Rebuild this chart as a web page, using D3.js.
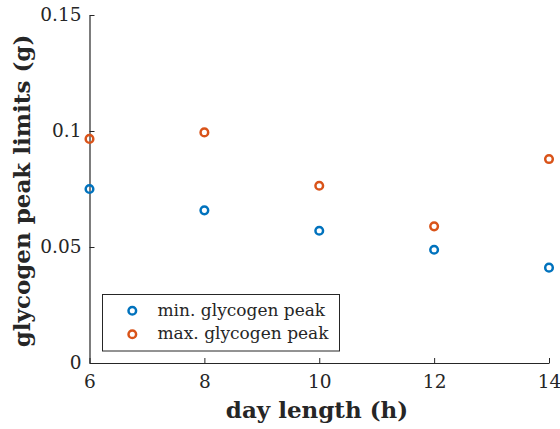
<!DOCTYPE html>
<html>
<head>
<meta charset="utf-8">
<script src="https://cdn.jsdelivr.net/npm/d3@7"></script>
<style>
  html, body { margin: 0; padding: 0; background: #fff; }
  svg { display: block; }
  text { font-family: "DejaVu Serif", serif; fill: #262626; }
</style>
</head>
<body>
<script>
const dayLength = [6, 8, 10, 12, 14];
const minPeak = [0.0750, 0.0658, 0.0570, 0.0488, 0.0411];
const maxPeak = [0.0966, 0.0994, 0.0764, 0.0589, 0.0879];
const xTicks = [6, 8, 10, 12, 14];
const yTicks = [0, 0.05, 0.1, 0.15];
const yTickLabels = ["0", "0.05", "0.1", "0.15"];
const seriesNames = ["min. glycogen peak", "max. glycogen peak"];
const seriesColors = ["#0072BD", "#D95319"];

const W = 560, H = 429;
const m = { left: 89.5, right: 11, top: 15, bottom: 66 };
const FONT = "DejaVu Serif";

const svg = d3.select("body").append("svg").attr("width", W).attr("height", H);

const x = d3.scaleLinear().domain([6, 14]).range([m.left, W - m.right]);
const y = d3.scaleLinear().domain([0, 0.15]).range([H - m.bottom, m.top]);

// X axis
const gx = svg.append("g").attr("transform", `translate(0,${H - m.bottom})`)
  .call(d3.axisBottom(x).tickValues(xTicks).tickSize(-5).tickSizeOuter(0).tickPadding(12).tickFormat(d3.format("d")));
gx.select(".domain").attr("stroke", "#262626").attr("stroke-width", 1.2);
gx.selectAll(".tick line").attr("stroke", "#262626");
gx.selectAll("text").attr("font-size", 18.5).attr("font-family", FONT).attr("fill", "#262626");

// Y axis
const gy = svg.append("g").attr("transform", `translate(${m.left},0)`)
  .call(d3.axisLeft(y).tickValues(yTicks).tickSize(-5).tickSizeOuter(0).tickPadding(8)
    .tickFormat((d, i) => yTickLabels[i]));
gy.select(".domain").attr("stroke", "#262626").attr("stroke-width", 1.2);
gy.selectAll(".tick line").attr("stroke", "#262626");
gy.selectAll("text").attr("font-size", 18.5).attr("font-family", FONT).attr("fill", "#262626");

// Axis labels
svg.append("text")
  .attr("x", 317).attr("y", 418)
  .attr("text-anchor", "middle").attr("font-size", 23).attr("font-weight", "bold")
  .attr("font-family", FONT)
  .text("day length (h)");

svg.append("text")
  .attr("transform", `translate(30,191) rotate(-90)`)
  .attr("text-anchor", "middle").attr("font-size", 23).attr("font-weight", "bold")
  .attr("font-family", FONT)
  .text("glycogen peak limits (g)");

// Points
const series = [minPeak, maxPeak];
series.forEach((vals, si) => {
  svg.append("g").selectAll("circle").data(vals).join("circle")
    .attr("cx", (d, i) => x(dayLength[i]))
    .attr("cy", d => y(d))
    .attr("r", 3.8)
    .attr("fill", "none")
    .attr("stroke", seriesColors[si])
    .attr("stroke-width", 2.5);
});

// Legend
const lg = svg.append("g");
lg.append("rect").attr("x", 102.5).attr("y", 294.5).attr("width", 237).attr("height", 56.5)
  .attr("fill", "#fff").attr("stroke", "#262626").attr("stroke-width", 1);
seriesNames.forEach((name, i) => {
  const cy = 310.7 + i * 23.6;
  lg.append("circle").attr("cx", 132.3).attr("cy", cy).attr("r", 3.8)
    .attr("fill", "none").attr("stroke", seriesColors[i]).attr("stroke-width", 2.5);
  lg.append("text").attr("x", 157.5).attr("y", cy + 5).attr("font-size", 17)
    .attr("font-family", FONT)
    .text(name);
});
</script>
</body>
</html>
